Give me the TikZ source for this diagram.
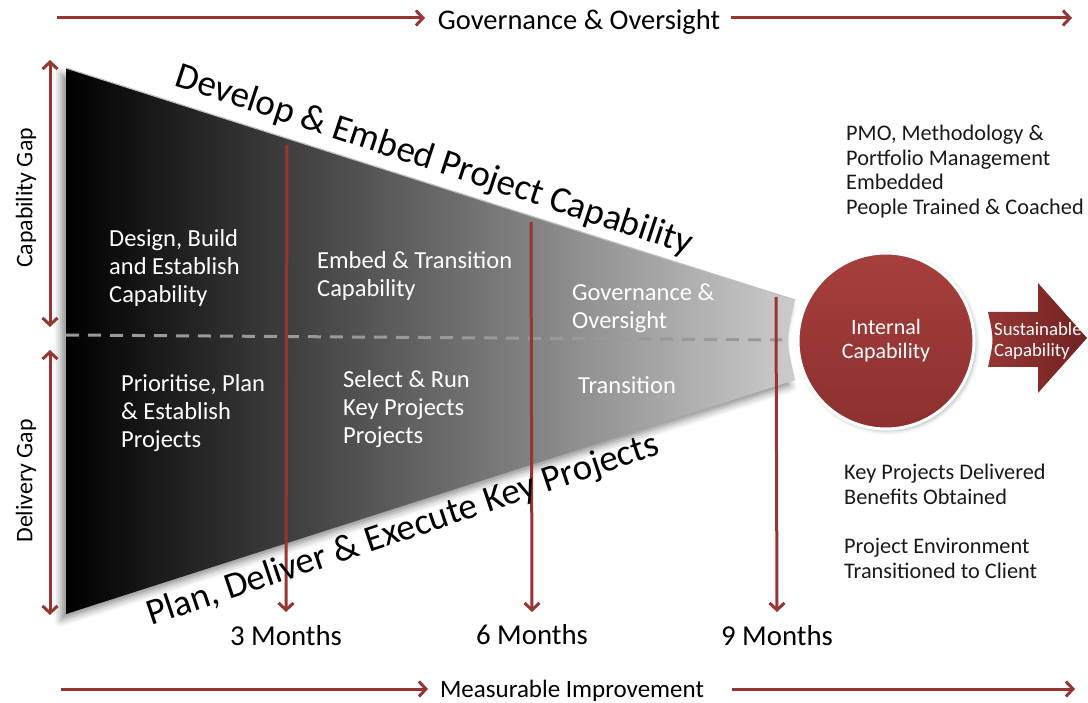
\documentclass[tikz,border=0pt]{standalone}
\usepackage{fontspec}
\setmainfont{Carlito}
\usetikzlibrary{arrows.meta,shadows.blur,calc}
\definecolor{wine}{RGB}{150,54,52}
\definecolor{winelight}{RGB}{166,63,61}
\definecolor{winelow}{RGB}{140,48,46}
\definecolor{winedark}{RGB}{112,34,33}
\newcommand{\fsz}[2]{\fontsize{#1}{#2}\selectfont}
\begin{document}
\begin{tikzpicture}[x=1pt,y=-1pt,
  redline/.style={draw=wine,line width=3pt},
  tipend/.style={-{Straight Barb[length=7pt,width=15pt]}},
  tipboth/.style={{Straight Barb[length=7pt,width=15pt]}-{Straight Barb[length=7pt,width=15pt]}},
  intext/.style={text=white,font=\fsz{24.5}{28},align=left,anchor=north west,inner sep=0pt},
  sidetext/.style={text=black!90,font=\fsz{22.3}{24.5},align=left,anchor=north west,inner sep=0pt},
  monthlbl/.style={font=\fsz{28.8}{32},inner sep=0pt},
  edgelbl/.style={font=\fsz{37}{40},inner sep=0pt},
  gaplbl/.style={font=\fsz{23.8}{26},rotate=90,inner sep=0pt},
  banner/.style={font=\fsz{28.5}{32},inner sep=0pt,anchor=base}]
\path[use as bounding box] (0,0) rectangle (1088,703);

% funnel body
\path[blur shadow={shadow xshift=-5pt,shadow yshift=-6pt,shadow blur radius=7pt,shadow opacity=45},
      left color=black,middle color=black!52,right color=black!20]
  (66,68) coordinate (ftl) -- (795,300) coordinate (ftr)
  .. controls (786,340) .. (795,380) coordinate (fbr) -- (66,614) coordinate (fbl) -- cycle;
\draw[black!25,line width=1.2pt] (ftl) -- (ftr);

% split between capability and delivery
\draw[black!40,line width=3pt,dash pattern=on 13pt off 9pt] (66,335) coordinate (da) -- (782,340) coordinate (db);

% banners
\node[banner] (gov) at (579,30) {Governance \& Oversight};
\node[banner,font=\fsz{25}{30}] (meas) at (572,697) {Measurable Improvement};
\coordinate (g1) at (57,18);
\coordinate (g2) at (1072,18);
\coordinate (m1) at (61,689);
\coordinate (m2) at (1075,689);
\draw[redline,tipend] (g1) -- (425,18) coordinate (g1e);
\draw[redline,tipend] (731,18) coordinate (g2s) -- (g2);
\draw[redline,tipend] (m1) -- (428,689) coordinate (m1e);
\draw[redline,tipend] (732,689) coordinate (m2s) -- (m2);

% gap arrows
\coordinate (c1) at (50,60);  \coordinate (c2) at (50,327);
\coordinate (d1) at (50,350); \coordinate (d2) at (50,615);
\draw[redline,tipboth] (c1) -- (c2);
\draw[redline,tipboth] (d1) -- (d2);
\node[gaplbl] (capgap) at (26,198) {Capability Gap};
\node[gaplbl] (delgap) at (26,481) {Delivery Gap};

% month markers
\coordinate (t3) at (287,145); \coordinate (t6) at (531,222); \coordinate (t9) at (776,297);
\node[monthlbl] (m3) at (286,636) {3 Months};
\node[monthlbl] (m6) at (532,635) {6 Months};
\node[monthlbl] (m9) at (777,636) {9 Months};
\draw[redline,tipend] (t3) -- (m3.north |- 0,612);
\draw[redline,tipend] (t6) -- (m6.north |- 0,612);
\draw[redline,tipend] (t9) -- (m9.north |- 0,612);

% phase texts
\node[intext] (p1) at (109,229) {Design, Build\\and Establish\\Capability};
\node[intext] (p2) at (317,251) {Embed \& Transition\\Capability};
\node[intext] (p3) at (572,284) {Governance \&\\Oversight};
\node[intext] (p4) at (121,374) {Prioritise, Plan\\\& Establish\\Projects};
\node[intext] (p5) at (343,370) {Select \& Run\\Key Projects\\Projects};
\node[intext] (p6) at (578,376) {Transition};

% edge captions
\node[edgelbl,rotate=-18.2] (dev) at (434,161) {Develop \& Embed Project Capability};
\node[edgelbl,rotate=18.6] (pln) at (403,531) {Plan, Deliver \& Execute Key Projects};

% outcome
\node[circle,minimum size=176pt,inner sep=0pt,draw=white,line width=3pt,
      top color=winelight,bottom color=winelow,
      blur shadow={shadow xshift=2pt,shadow yshift=-2pt,shadow blur radius=4pt,shadow opacity=30},
      text=white,align=center,font=\fsz{22}{24}] (core) at (886,341) {Internal\\Capability};

\path[left color=wine,right color=winedark]
  (988,312) coordinate (a1) -- (1038,312) -- (1038,283) -- (1087,338) coordinate (atip)
  -- (1038,393) -- (1038,367) -- (988,367) .. controls (994,340) .. (a1) -- cycle;
\node[text=white,align=left,anchor=west,font=\fsz{18.8}{21},inner sep=0pt] (sust) at (994,341) {Sustainable\\Capability};

% results
\node[sidetext] (r1) at (846,125) {PMO, Methodology \&\\Portfolio Management\\Embedded\\People Trained \& Coached};
\node[sidetext] (r2) at (844,464) {Key Projects Delivered\\Benefits Obtained};
\node[sidetext] (r3) at (844,538) {Project Environment\\Transitioned to Client};
\end{tikzpicture}
\end{document}
